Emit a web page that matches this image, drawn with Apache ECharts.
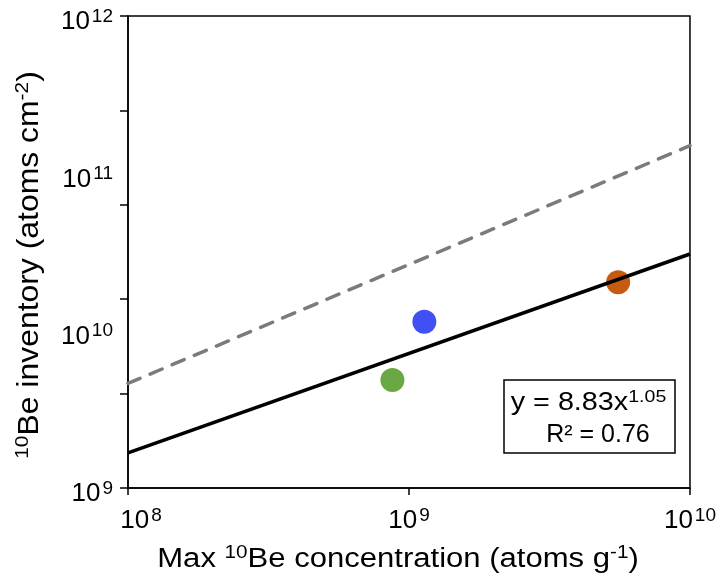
<!DOCTYPE html>
<html>
<head>
<meta charset="utf-8">
<script src="https://cdn.jsdelivr.net/npm/echarts@6/dist/echarts.min.js"></script>
<style>html,body{margin:0;padding:0;background:#fff}#c{width:719px;height:586px}</style>
</head>
<body>
<div id="c"></div>
<script>
// ---- data ----
const xRange = [1e8, 1e10];
const yRange = [1e9, 1e12];
const sampleNames = ['Green site', 'Blue site', 'Orange site'];
const sampleX = [8.73e8, 1.134e9, 5.55e9];
const sampleY = [4.86e9, 1.14e10, 2.03e10];
const fitX = [1e8, 1e10];
const fitY = [1.67e9, 3.07e10];
const dashX = [1e8, 1e10];
const dashY = [4.62e9, 1.50e11];
const eqLine1 = ['y = 8.83x', '1.05'];
const eqLine2 = 'R² = 0.76';
const xTitle = ['Max ', '10', 'Be concentration (atoms g', '-1', ')'];
const yTitle = ['10', 'Be inventory (atoms cm', '-2', ')'];

const FONT = "'Liberation Sans', Arial, sans-serif";
const colors = ['#6aa843', '#4050f2', '#c55a11'];

const chart = echarts.init(document.getElementById('c'), null, {renderer: 'canvas'});

function expLabel(v, first) {
  const e = Math.round(Math.log10(v));
  if (Math.abs(Math.log10(v) - e) > 1e-6) return '';
  return (first ? '{bf|10}' : '{b|10}') + '{s|' + e + '}';
}
const richLbl = {
  b: {fontSize: 26, fontFamily: FONT, color: '#000', lineHeight: 30},
  bf: {fontSize: 26, fontFamily: FONT, color: '#000', lineHeight: 30, padding: [0, 0, 0, 26]},
  s: {fontSize: 19, fontFamily: FONT, color: '#000', lineHeight: 18, verticalAlign: 'top', padding: [0, 0, 0, 2]}
};
const richTitle = {
  b: {fontSize: 27, fontFamily: FONT, color: '#000', lineHeight: 31},
  s: {fontSize: 18, fontFamily: FONT, color: '#000', lineHeight: 17, verticalAlign: 'top'}
};
const richTitleY = {
  b: {fontSize: 29, fontFamily: FONT, color: '#000', lineHeight: 33},
  s: {fontSize: 19, fontFamily: FONT, color: '#000', lineHeight: 18, verticalAlign: 'top'}
};

const scatterData = sampleX.map((x, i) => ({
  name: sampleNames[i], value: [x, sampleY[i]], itemStyle: {color: colors[i], opacity: 1}
}));

chart.setOption({
  animation: false,
  backgroundColor: '#fff',
  grid: {left: 128, right: 24, top: 16, bottom: 98, show: true, borderColor: '#000', borderWidth: 1.5, backgroundColor: 'transparent'},
  xAxis: {
    type: 'log', logBase: 10, min: xRange[0], max: xRange[1],
    axisLine: {show: true, onZero: false, lineStyle: {color: '#000', width: 1.5}},
    axisTick: {show: true, length: 7, lineStyle: {color: '#000', width: 1.5}},
    splitLine: {show: false},
    minorTick: {show: false},
    axisLabel: {
      margin: 18, color: '#000',
      formatter: v => expLabel(v, Math.abs(v - xRange[0]) < 1),
      rich: richLbl
    }
  },
  yAxis: [{
    type: 'log', logBase: 10, min: yRange[0], max: yRange[1],
    axisLine: {show: true, onZero: false, lineStyle: {color: '#000', width: 1.5}},
    axisTick: {show: false},
    splitLine: {show: false},
    axisLabel: {
      margin: 15, color: '#000', padding: [12, 0, 0, 0],
      formatter: v => expLabel(v, false),
      rich: richLbl
    }
  }, {
    type: 'value', min: 0, max: 5, interval: 1, position: 'left',
    axisLine: {show: false},
    axisTick: {show: true, length: 8, lineStyle: {color: '#000', width: 1.5}},
    axisLabel: {show: false},
    splitLine: {show: false}
  }],
  series: [{
    type: 'scatter', yAxisIndex: 0, symbol: 'circle', symbolSize: 24,
    data: scatterData, z: 2
  }, {
    type: 'line', yAxisIndex: 0, showSymbol: false, symbol: 'none',
    data: dashX.map((x, i) => [x, dashY[i]]),
    lineStyle: {color: '#7b7b7b', width: 3.5, type: [13, 11], cap: 'round'}, z: 3
  }, {
    type: 'line', yAxisIndex: 0, showSymbol: false, symbol: 'none',
    data: fitX.map((x, i) => [x, fitY[i]]),
    lineStyle: {color: '#000', width: 3.5}, z: 4
  }],
  graphic: [{
    type: 'text', x: 398, y: 560, scaleX: 1.15,
    style: {
      text: '{b|' + xTitle[0] + '}{s|' + xTitle[1] + '}{b|' + xTitle[2] + '}{s|' + xTitle[3] + '}{b|' + xTitle[4] + '}',
      rich: richTitle, align: 'center', verticalAlign: 'middle'
    }
  }, {
    type: 'text', x: 30, y: 265, rotation: Math.PI / 2, scaleX: 1.1,
    style: {
      text: '{s|' + yTitle[0] + '}{b|' + yTitle[1] + '}{s|' + yTitle[2] + '}{b|' + yTitle[3] + '}',
      rich: richTitleY, align: 'center', verticalAlign: 'middle'
    }
  }, {
    type: 'rect', shape: {x: 504, y: 380, width: 171, height: 73},
    style: {fill: '#fff', stroke: '#000', lineWidth: 1.5}, z: 10
  }, {
    type: 'text', x: 588.5, y: 403, z: 11, scaleX: 1.15,
    style: {
      text: '{b|' + eqLine1[0] + '}{s|' + eqLine1[1] + '}',
      rich: {
        b: {fontSize: 25, fontFamily: FONT, color: '#000', lineHeight: 28},
        s: {fontSize: 17, fontFamily: FONT, color: '#000', lineHeight: 17, verticalAlign: 'top'}
      },
      align: 'center', verticalAlign: 'middle'
    }
  }, {
    type: 'text', x: 598, y: 435, z: 11,
    style: {text: eqLine2, font: '25px ' + FONT, fill: '#000', align: 'center', verticalAlign: 'middle'}
  }]
});
</script>
</body>
</html>
